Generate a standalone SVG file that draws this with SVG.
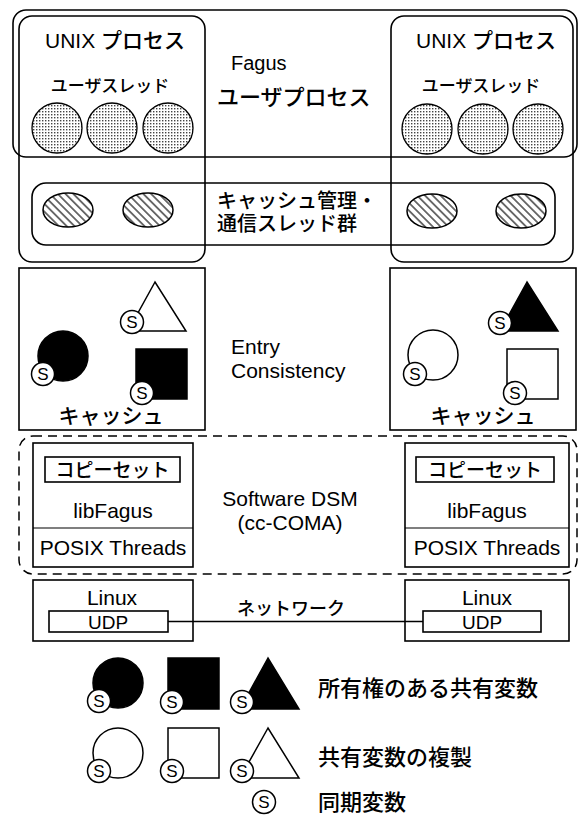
<svg xmlns="http://www.w3.org/2000/svg" width="580" height="826" viewBox="0 0 580 826">
<defs>
<pattern id="dots" width="3" height="3" patternUnits="userSpaceOnUse"><rect width="3" height="3" fill="#fff"/><rect width="1.4" height="1.4" fill="#444"/></pattern>
<pattern id="hatch" width="5.5" height="5.5" patternUnits="userSpaceOnUse" patternTransform="rotate(-45)"><rect width="5.5" height="5.5" fill="#fff"/><line x1="2.75" y1="0" x2="2.75" y2="5.5" stroke="#000" stroke-width="1.1"/></pattern>
<g id="sync"><circle r="11.5" fill="#fff" stroke="#000" stroke-width="1.5"/><text y="6" class="s">S</text></g>
</defs>
<style>
.box{fill:none;stroke:#000;stroke-width:1.6}
.dash{fill:none;stroke:#000;stroke-width:1.5;stroke-dasharray:9 6}
.thread{fill:url(#dots);stroke:#000;stroke-width:1.3}
.ct{fill:url(#hatch);stroke:#000;stroke-width:1.5}
.own{fill:#000;stroke:#000;stroke-width:1.5}
.rep{fill:#fff;stroke:#000;stroke-width:1.5}
.sep{stroke:#000;stroke-width:1.2}
text{font-family:"Liberation Sans","Noto Sans CJK JP",sans-serif;fill:#000}
.jp{font-weight:500}
.c{text-anchor:middle}
.s{font-size:17px;text-anchor:middle}
.link{stroke:#000;stroke-width:1.3;fill:none}
</style>

<g id="fagus-process">
<rect class="box" x="13" y="10" width="564" height="147" rx="13"/>
<text x="231" y="70" font-size="20">Fagus</text>
<text class="jp" x="217" y="105" font-size="22">ユーザプロセス</text>
</g>

<g id="unix-process-left">
<rect class="box" x="19" y="16" width="186" height="246" rx="13"/>
<text class="c" x="115" y="48" font-size="21">UNIX <tspan class="jp">プロセス</tspan></text>
<text class="c jp" x="110" y="92" font-size="17">ユーザスレッド</text>
<circle class="thread" cx="57" cy="128" r="25"/>
<circle class="thread" cx="112" cy="128" r="25"/>
<circle class="thread" cx="168" cy="128" r="25"/>
</g>

<g id="unix-process-right">
<rect class="box" x="391" y="16" width="182" height="246" rx="13"/>
<text class="c" x="486" y="48" font-size="21">UNIX <tspan class="jp">プロセス</tspan></text>
<text class="c jp" x="481" y="92" font-size="17">ユーザスレッド</text>
<circle class="thread" cx="427" cy="129" r="25"/>
<circle class="thread" cx="483" cy="129" r="25"/>
<circle class="thread" cx="538" cy="129" r="25"/>
</g>

<g id="cache-threads">
<rect class="box" x="32" y="183" width="523" height="62" rx="14"/>
<text class="jp" x="217" y="208" font-size="20">キャッシュ管理・</text>
<text class="jp" x="217" y="231" font-size="20">通信スレッド群</text>
<ellipse class="ct" cx="68" cy="210" rx="25" ry="17"/>
<ellipse class="ct" cx="148" cy="210" rx="25" ry="17"/>
<ellipse class="ct" cx="432" cy="211" rx="25" ry="17"/>
<ellipse class="ct" cx="521" cy="211" rx="25" ry="17"/>
</g>

<g id="cache-left">
<rect class="box" x="19" y="268" width="186" height="162"/>
<polygon class="rep" points="155,282 128,331 186,331"/>
<use href="#sync" x="132" y="322"/>
<circle class="own" cx="63" cy="356" r="25"/>
<use href="#sync" x="43" y="374"/>
<rect class="own" x="136" y="349" width="51" height="50"/>
<use href="#sync" x="142" y="393"/>
<text class="c jp" x="111" y="423" font-size="21">キャッシュ</text>
</g>

<g id="cache-right">
<rect class="box" x="390" y="268" width="186" height="162"/>
<polygon class="own" points="527,282 500,331 558,331"/>
<use href="#sync" x="500" y="323"/>
<circle class="rep" cx="433" cy="355" r="25"/>
<use href="#sync" x="415" y="374"/>
<rect class="rep" x="507" y="349" width="51" height="50"/>
<use href="#sync" x="515" y="393"/>
<text class="c jp" x="483" y="423" font-size="21">キャッシュ</text>
</g>

<g id="entry-consistency">
<text x="231" y="354" font-size="21">Entry</text>
<text x="231" y="378" font-size="21">Consistency</text>
</g>

<g id="software-dsm">
<rect class="dash" x="19" y="436" width="558" height="138" rx="14"/>
<text class="c" x="290" y="506" font-size="21">Software DSM</text>
<text class="c" x="290" y="530" font-size="21">(cc-COMA)</text>
</g>

<g id="libfagus-left">
<rect class="box" x="33" y="443" width="160" height="124"/>
<rect class="box" x="45" y="457" width="135" height="25"/>
<text class="c jp" x="112.5" y="476.5" font-size="19">コピーセット</text>
<text class="c" x="113" y="518" font-size="21">libFagus</text>
<line class="sep" x1="33" y1="528" x2="193" y2="528"/>
<text class="c" x="113" y="555" font-size="21">POSIX Threads</text>
</g>

<g id="libfagus-right">
<rect class="box" x="405" y="443" width="164" height="124"/>
<rect class="box" x="416" y="457" width="138" height="25"/>
<text class="c jp" x="485" y="476.5" font-size="19">コピーセット</text>
<text class="c" x="487" y="518" font-size="21">libFagus</text>
<line class="sep" x1="405" y1="528" x2="569" y2="528"/>
<text class="c" x="487" y="555" font-size="21">POSIX Threads</text>
</g>

<g id="linux-left">
<rect class="box" x="33" y="580" width="160" height="61"/>
<text class="c" x="112" y="605" font-size="21">Linux</text>
<rect class="box" x="49" y="611" width="119" height="21"/>
<text class="c" x="108" y="628.5" font-size="19">UDP</text>
</g>

<g id="linux-right">
<rect class="box" x="405" y="580" width="164" height="61"/>
<text class="c" x="487" y="605" font-size="21">Linux</text>
<rect class="box" x="423" y="611" width="118" height="21"/>
<text class="c" x="482" y="628.5" font-size="19">UDP</text>
</g>

<g id="connectors">
<line class="link" x1="168" y1="621.5" x2="423" y2="621.5"/>
<text class="c jp" x="291" y="615" font-size="18">ネットワーク</text>
</g>

<g id="legend-owned">
<circle class="own" cx="118" cy="683" r="25"/>
<use href="#sync" x="99" y="701"/>
<rect class="own" x="168" y="658" width="51" height="51"/>
<use href="#sync" x="172" y="702"/>
<polygon class="own" points="268,658 240,709 299,709"/>
<use href="#sync" x="242" y="702"/>
<text class="jp" x="318" y="696" font-size="22">所有権のある共有変数</text>
</g>

<g id="legend-replica">
<circle class="rep" cx="118" cy="753" r="25"/>
<use href="#sync" x="99" y="771"/>
<rect class="rep" x="168" y="728" width="51" height="50"/>
<use href="#sync" x="172" y="771"/>
<polygon class="rep" points="268,728 240,778 299,778"/>
<use href="#sync" x="242" y="771"/>
<text class="jp" x="318" y="765" font-size="22">共有変数の複製</text>
</g>

<g id="legend-sync">
<use href="#sync" x="264" y="802"/>
<text class="jp" x="318" y="810" font-size="22">同期変数</text>
</g>
</svg>
